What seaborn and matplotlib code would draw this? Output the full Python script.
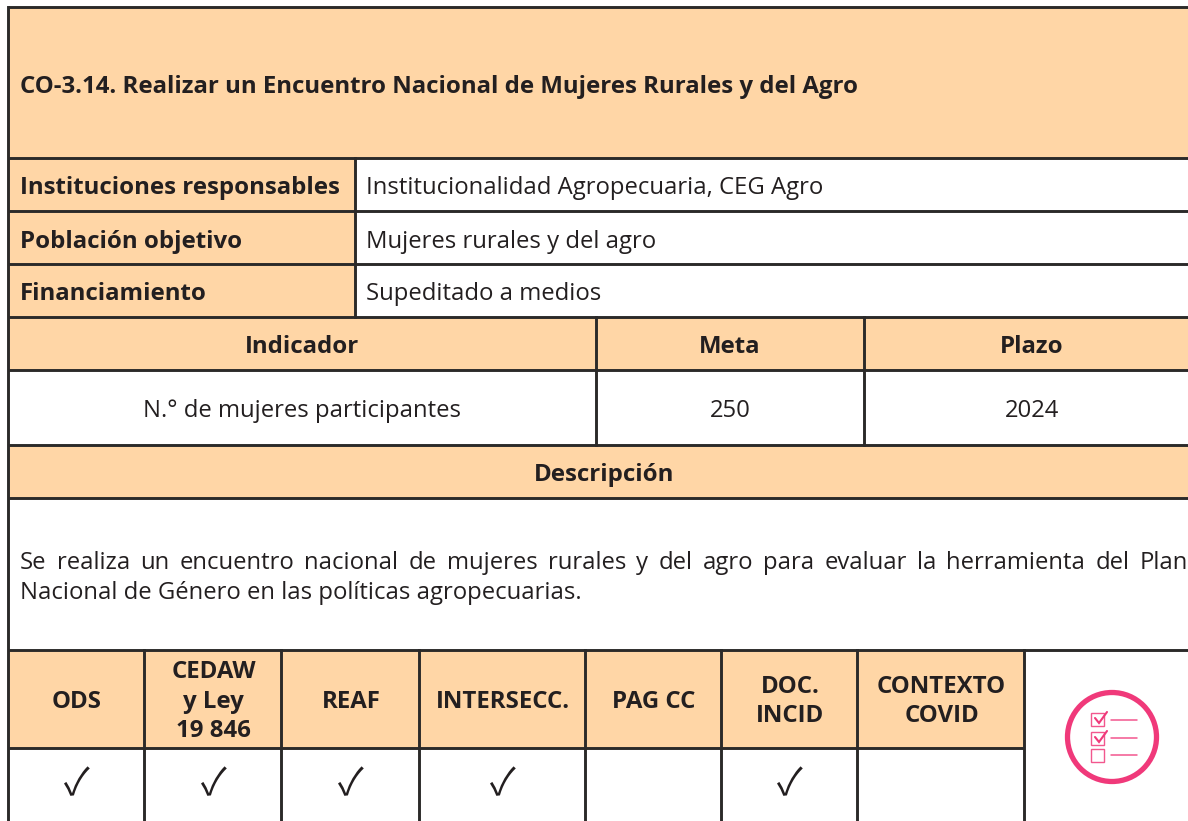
import matplotlib
matplotlib.use("Agg")
import matplotlib.pyplot as plt
from matplotlib.patches import Rectangle, Circle
import seaborn as sns

sns.set_theme(style="white")
plt.rcParams['font.family'] = ['Open Sans', 'DejaVu Sans']

title = "CO-3.14. Realizar un Encuentro Nacional de Mujeres Rurales y del Agro"
info_labels = ["Instituciones responsables", "Población objetivo", "Financiamiento"]
info_values = ["Institucionalidad Agropecuaria, CEG Agro", "Mujeres rurales y del agro", "Supeditado a medios"]
indicator_headers = ["Indicador", "Meta", "Plazo"]
indicator_values = ["N.° de mujeres participantes", "250", "2024"]
description_header = "Descripción"
description_line1 = "Se realiza un encuentro nacional de mujeres rurales y del agro para evaluar la herramienta del Plan"
description_line2 = "Nacional de Género en las políticas agropecuarias."
criteria = ["ODS", "CEDAW\ny Ley\n19 846", "REAF", "INTERSECC.", "PAG CC", "DOC.\nINCID", "CONTEXTO\nCOVID"]
criteria_met = [True, True, True, True, False, True, False]

W, H = 1188, 821
PEACH, INK, PINK = "#FFD6A6", "#2B2A29", "#F0397A"
LW = 2.1
ROW = [7, 158, 211, 264, 317, 370, 445, 498, 650, 748, 821]
LEFT, SPLIT, IND = 8, 355, [596, 864]
CRIT = [8, 144, 281, 419, 585, 721, 857, 1024]

fig = plt.figure(figsize=(W / 100, H / 100), dpi=100, facecolor="white")
ax = fig.add_axes([0, 0, 1, 1])
ax.set_xlim(0, W)
ax.set_ylim(H, 0)
ax.axis("off")
sns.despine(ax=ax, left=True, bottom=True)

def fill(x0, x1, y0, y1):
    ax.add_patch(Rectangle((x0, y0), x1 - x0, y1 - y0, fc=PEACH, ec="none", zorder=1))

def hl(y, x0=LEFT, x1=W):
    ax.plot([x0, x1], [y, y], color=INK, lw=LW, solid_capstyle="butt", zorder=3)

def vl(x, y0, y1):
    ax.plot([x, x], [y0, y1], color=INK, lw=LW, solid_capstyle="projecting", zorder=3)

BOLD = dict(fontweight="bold", color="#231F20", fontsize=17.3)
REG = dict(color="#231F20", fontsize=17.2)

# fills
fill(LEFT, W, ROW[0], ROW[1])
fill(LEFT, SPLIT, ROW[1], ROW[4])
fill(LEFT, W, ROW[4], ROW[5])
fill(LEFT, W, ROW[6], ROW[7])
fill(LEFT, CRIT[-1], ROW[8], ROW[9])

# grid
for y in ROW[:9]:
    hl(y)
hl(ROW[9], LEFT, CRIT[-1])
vl(LEFT, ROW[0], H)
vl(SPLIT, ROW[1], ROW[4])
for x in IND:
    vl(x, ROW[4], ROW[6])
for x in CRIT[1:]:
    vl(x, ROW[8], H)

# text
ax.text(20, 84, title, va="center_baseline", ha="left", **BOLD)
for i, (a, b) in enumerate(zip(info_labels, info_values)):
    yc = (ROW[i + 1] + ROW[i + 2]) / 2
    ax.text(20, yc + (1 if i == 1 else 0), a, va="center_baseline", ha="left", **BOLD)
    ax.text(366, yc + (1 if i == 1 else 0), b, va="center_baseline", ha="left", **REG)

ind_centers = [302, 730, 1032]
for cx, a, b in zip(ind_centers, indicator_headers, indicator_values):
    ax.text(cx, 344, a, va="center_baseline", ha="center", **BOLD)
    ax.text(cx, 408, b, va="center_baseline", ha="center", **REG)
ax.text(604, 472, description_header, va="center_baseline", ha="center", **BOLD)

# justified first description line, word by word
words = description_line1.split(" ")
fig.canvas.draw()
rend = fig.canvas.get_renderer()
widths = []
for w in words:
    t = ax.text(0, 0, w, **REG)
    widths.append(t.get_window_extent(rend).width)
    t.remove()
x0, x1 = 20, 1188
gap = (x1 - x0 - sum(widths)) / (len(words) - 1)
x = x0
for w, wd in zip(words, widths):
    ax.text(x, 560, w, va="center_baseline", ha="left", **REG)
    x += wd + gap
ax.text(20, 590, description_line2, va="center_baseline", ha="left", **REG)

# criteria row
for i, (lab, met) in enumerate(zip(criteria, criteria_met)):
    cx = (CRIT[i] + CRIT[i + 1]) / 2 + 1
    ax.text(cx, 701.5, lab, va="center", ha="center", linespacing=1.28, **BOLD)
    if met:
        ax.text(cx, 785, "\u2713", family=["Noto Sans CJK SC", "DejaVu Sans"], va="center", ha="center",
                fontsize=27, color="#231F20", fontweight="light")

# checklist icon
ax.add_patch(Circle((1112, 737), 44.5, fc="none", ec=PINK, lw=3.8, zorder=4))
for k, (ybox, yline) in enumerate(zip([713, 732, 749], [720, 738, 755])):
    ax.add_patch(Rectangle((1091, ybox), 13, 13, fc="white", ec=PINK, lw=1.0, alpha=0.85, zorder=4))
    ax.plot([1111, 1137], [yline, yline], color=PINK, lw=1.1, alpha=0.85, zorder=4)
    if k < 2:
        ax.plot([1095, 1099, 1107], [ybox + 5, ybox + 10, ybox - 1], color=PINK, lw=1.5,
                solid_joinstyle="miter", zorder=5)

fig.savefig("out.png", dpi=100, facecolor="white")
